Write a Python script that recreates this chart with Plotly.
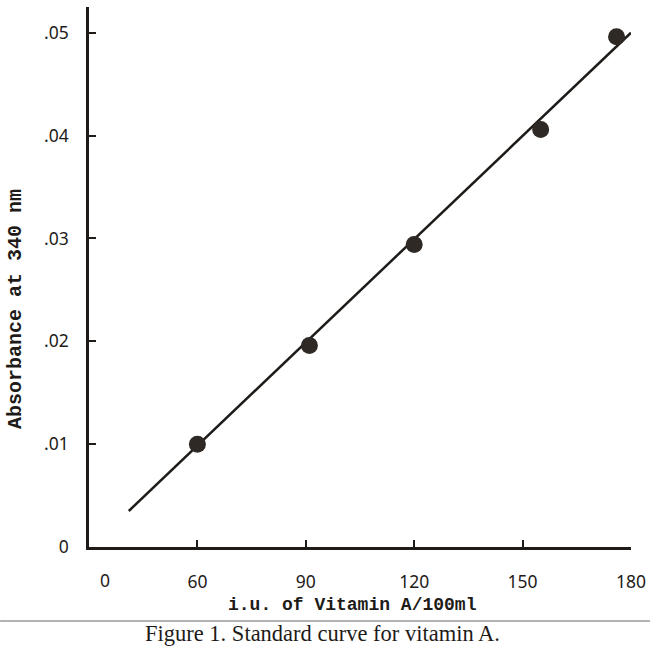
import plotly.graph_objects as go

# Data
conc = [60, 91, 120, 155, 176]                     # i.u. of Vitamin A / 100 ml
absorb = [0.0100, 0.0196, 0.0294, 0.0406, 0.0496]  # absorbance at 340 nm

fit_x = [41, 180]
fit_y = [0.0035, 0.0500]

x_ticks = [60, 90, 120, 150, 180]
x_ticklabels = ["60", "90", "120", "150", "180"]
y_ticks = [0, 0.01, 0.02, 0.03, 0.04, 0.05]
y_ticklabels = ["0", ".01", ".02", ".03", ".04", ".05"]

ink = "#1e1b18"
dot = "#2e2924"

fig = go.Figure()
fig.add_trace(go.Scatter(x=fit_x, y=fit_y, mode="lines",
                         line=dict(color=ink, width=2.5), hoverinfo="skip"))
fig.add_trace(go.Scatter(x=conc, y=absorb, mode="markers",
                         marker=dict(color=dot, size=17, line=dict(width=0))))

tickfont = dict(family="Noto Sans, DejaVu Sans, sans-serif", size=17.5, color=ink)
titlefont = dict(family="Liberation Mono, Courier New, monospace", size=18, color=ink)

fig.update_layout(
    width=650, height=653,
    margin=dict(l=89, r=19, t=7, b=106),
    paper_bgcolor="white", plot_bgcolor="white",
    showlegend=False,
    xaxis=dict(range=[30, 180], tickvals=x_ticks, ticktext=x_ticklabels,
               showgrid=False, zeroline=False, showline=True,
               linecolor=ink, linewidth=2.5, automargin=False,
               ticks="inside", ticklen=7, tickwidth=2, tickcolor=ink,
               tickfont=tickfont, ticklabelstandoff=17),
    yaxis=dict(range=[0, 0.0525], tickvals=y_ticks, ticktext=y_ticklabels,
               showgrid=False, zeroline=False, showline=True,
               linecolor=ink, linewidth=2.5, automargin=False,
               ticks="inside", ticklen=7, tickwidth=2, tickcolor=ink,
               tickfont=tickfont, ticklabelstandoff=14),
)

# axis titles
fig.add_annotation(x=0.487, xref="paper", y=-0.1074, yref="paper",
                   text="<b>i.u. of Vitamin A/100ml</b>", showarrow=False,
                   font=titlefont, xanchor="center", yanchor="middle")
fig.add_annotation(x=-0.1365, xref="paper", y=0.4407, yref="paper",
                   text="<b>Absorbance at 340 nm</b>", showarrow=False,
                   textangle=-90, font=dict(titlefont, size=20),
                   xanchor="center", yanchor="middle")

# "0" label of the x axis (placed left of the first tick, no tick mark)
fig.add_annotation(x=34.5, xref="x", y=0, yref="paper", yshift=-33,
                   text="0", showarrow=False, font=tickfont,
                   xanchor="center", yanchor="middle")

# rule and caption below the figure
fig.add_shape(type="line", xref="paper", yref="paper", x0=-0.164, x1=1.035,
              y0=-0.137, y1=-0.137, line=dict(color="#666", width=1.2))
fig.add_annotation(x=0.4317, xref="paper", y=-0.1593, yref="paper",
                   text="Figure 1. Standard curve for vitamin A.", showarrow=False,
                   xanchor="center", yanchor="middle",
                   font=dict(family="Liberation Serif, Times New Roman, serif", size=22.5, color=ink))

# remove the browser's default page margin so the 650x653 figure fills the window
fig.write_html("out.html",
               config={"displayModeBar": False},
               post_script="document.body.style.margin='0';document.body.style.overflow='hidden';")
